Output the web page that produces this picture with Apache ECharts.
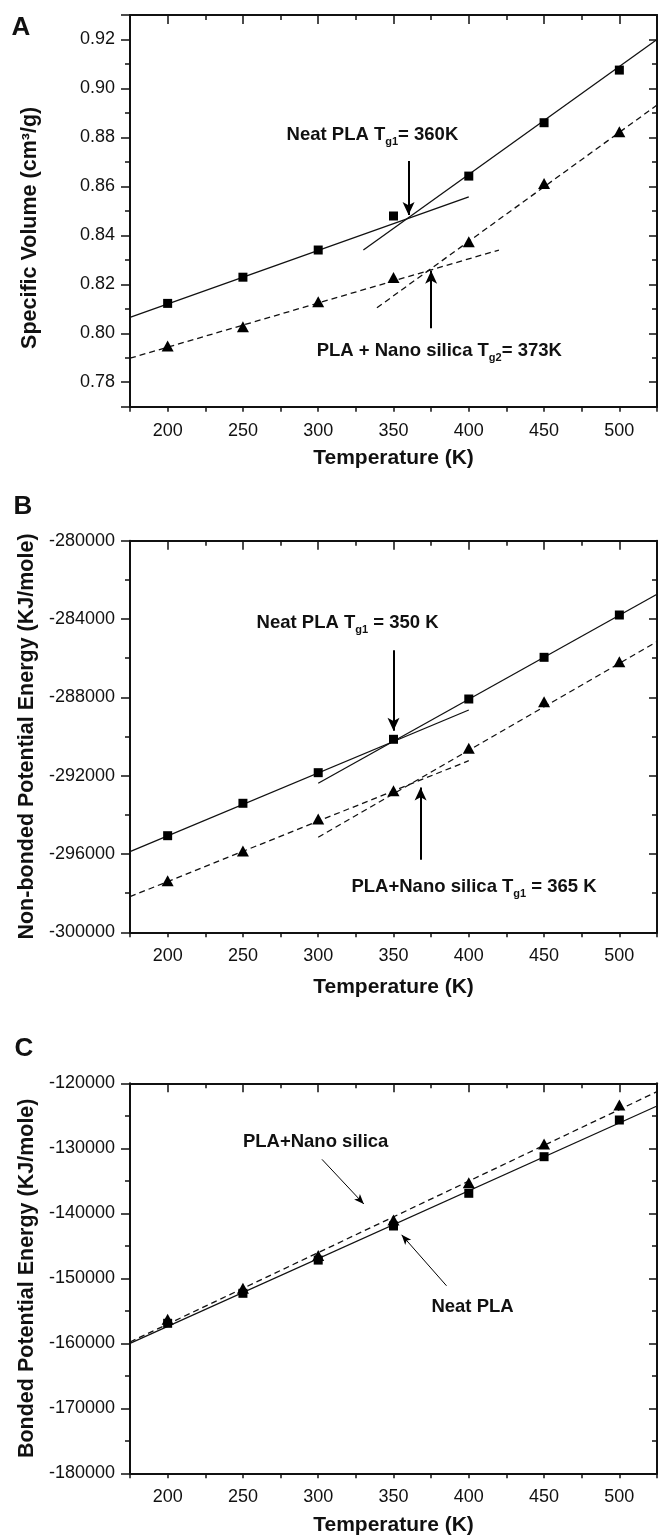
<!DOCTYPE html>
<html>
<head>
<meta charset="utf-8">
<script src="https://cdn.jsdelivr.net/npm/echarts@6/dist/echarts.min.js"></script>
<style>
  html, body { margin: 0; padding: 0; background: #fff; }
  #chart { width: 659px; height: 1536px; }
</style>
</head>
<body>
<div id="chart"></div>
<script>
// ---------------- data ----------------
const temps = [200, 250, 300, 350, 400, 450, 500];
const xTickLabels = [200, 250, 300, 350, 400, 450, 500];

// Panel A: specific volume (cm3/g)
const volNeat    = [0.8122, 0.8229, 0.8340, 0.8479, 0.8642, 0.8860, 0.9075];
const volSilica  = [0.7948, 0.8027, 0.8129, 0.8228, 0.8374, 0.8612, 0.8823];
const volNeatFitLow    = [[175, 0.8065], [400, 0.8557]];
const volNeatFitHigh   = [[330, 0.8340], [525, 0.9200]];
const volSilicaFitLow  = [[175, 0.7898], [420, 0.8340]];
const volSilicaFitHigh = [[339, 0.8104], [525, 0.8932]];
const volArrows = [[[360, 0.8704], [360, 0.8483]], [[375, 0.8020], [375, 0.8255]]];
const volNotes = [
  { at: [336, 0.8809], main: 'Neat PLA T', sub: 'g1', tail: '= 360K' },
  { at: [380.4, 0.7929], main: 'PLA + Nano silica T', sub: 'g2', tail: '= 373K' }
];

// Panel B: non-bonded potential energy (KJ/mole)
const nbNeat   = [-295066, -293411, -291848, -290143, -288085, -285956, -283795];
const nbSilica = [-297364, -295848, -294213, -292768, -290602, -288222, -286180];
const nbNeatFitLow    = [[175, -295883], [400, -288646]];
const nbNeatFitHigh   = [[300, -292390], [525, -282737]];
const nbSilicaFitLow  = [[175, -298181], [400, -291235]];
const nbSilicaFitHigh = [[300, -295148], [525, -285152]];
const nbArrows = [[[350, -285600], [350, -289700]], [[368, -296300], [368, -292600]]];
const nbNotes = [
  { at: [319.5, -284190], main: 'Neat PLA T', sub: 'g1', tail: ' = 350 K' },
  { at: [403.5, -297670], main: 'PLA+Nano silica T', sub: 'g1', tail: ' = 365 K' }
];

// Panel C: bonded potential energy (KJ/mole)
const bNeat   = [-156923, -152308, -147200, -141954, -136923, -131292, -125646];
const bSilica = [-156308, -151538, -146500, -141031, -135292, -129338, -123338];
const bNeatFit   = [[175, -160000], [525, -123492]];
const bSilicaFit = [[175, -159800], [525, -121292]];
const bArrows = [[[302.5, -131700], [330.3, -138570]], [[385.2, -151150], [355.4, -143310]]];
const bNotes = [
  { at: [298.3, -128985], main: 'PLA+Nano silica', sub: '', tail: '' },
  { at: [402.5, -154370], main: 'Neat PLA', sub: '', tail: '' }
];

// ---------------- styling / layout ----------------
const FONT = '"Liberation Sans", Arial, Helvetica, sans-serif';
const INK = '#111';
const TXT = '#111';
const grids = [
  { left: 130, top: 15,    width: 527, height: 391.7 },
  { left: 130, top: 540.7, width: 527, height: 391.6 },
  { left: 130, top: 1083.3, width: 527, height: 390 }
];
const panels = [
  { yName: 'Specific Volume (cm\u00B3/g)', yMin: 0.77, yMax: 0.93, major: { minInterval: 0.02, maxInterval: 0.02 },
    step: 0.02, minor: 0.01, dec: 2, xGap: 41, namePad: [0, 34, 0, 0] },
  { yName: 'Non-bonded Potential Energy (KJ/mole)', yMin: -300000, yMax: -280000, major: { interval: 4000 },
    step: 4000, minor: 2000, dec: 0, xGap: 44, namePad: [0, 0, 0, 0] },
  { yName: 'Bonded Potential Energy (KJ/mole)', yMin: -180000, yMax: -120000, major: { interval: 10000 },
    step: 10000, minor: 5000, dec: 0, xGap: 41, namePad: [0, 0, 0, 0] }
];

const line2 = { color: INK, width: 2 };
const tickLS = { color: INK, width: 1.5 };
const xAxes = [], yAxes = [];
panels.forEach((p, gi) => {
  // bottom x axis (labels)
  xAxes.push({
    gridIndex: gi, type: 'value', position: 'bottom', min: 175, max: 525, interval: 25,
    axisLine: { show: true, onZero: false, lineStyle: line2 },
    axisTick: { show: true, inside: false, length: 5, lineStyle: tickLS },
    axisLabel: {
      show: true, margin: 15, fontSize: 18, color: TXT, fontFamily: FONT,
      formatter: v => (xTickLabels.indexOf(Math.round(v)) >= 0 && Math.abs(v - Math.round(v)) < 1e-6) ? String(Math.round(v)) : ''
    },
    splitLine: { show: false },
    name: 'Temperature (K)', nameLocation: 'middle', nameGap: p.xGap,
    nameTextStyle: { fontSize: 21, fontWeight: 'bold', color: TXT, fontFamily: FONT }
  });
  // top x axis, major ticks
  xAxes.push({
    gridIndex: gi, type: 'value', position: 'top', min: 175, max: 525, minInterval: 50, maxInterval: 50,
    axisLine: { show: true, onZero: false, lineStyle: line2 },
    axisTick: { show: true, inside: true, length: 9, lineStyle: tickLS },
    axisLabel: { show: false }, splitLine: { show: false }
  });
  // top x axis, minor ticks
  xAxes.push({
    gridIndex: gi, type: 'value', position: 'top', min: 175, max: 525, interval: 25,
    axisLine: { show: false, onZero: false },
    axisTick: { show: true, inside: true, length: 5, lineStyle: tickLS },
    axisLabel: { show: false }, splitLine: { show: false }
  });
  // left y axis, major + labels
  const isStep = v => Math.abs(v / p.step - Math.round(v / p.step)) < 1e-6;
  yAxes.push(Object.assign({
    gridIndex: gi, type: 'value', position: 'left', min: p.yMin, max: p.yMax,
    axisLine: { show: true, onZero: false, lineStyle: line2 },
    axisTick: { show: true, inside: false, length: 9, lineStyle: tickLS },
    axisLabel: {
      show: true, margin: 15, fontSize: 18, color: TXT, fontFamily: FONT,
      showMinLabel: true, showMaxLabel: true,
      formatter: v => isStep(v) ? v.toFixed(p.dec) : ''
    },
    splitLine: { show: false },
    name: p.yName, nameLocation: 'middle', nameGap: 89,
    nameTextStyle: { fontSize: 21.5, fontWeight: 'bold', color: TXT, fontFamily: FONT, padding: p.namePad }
  }, p.major));
  // left y axis, minor ticks
  yAxes.push({
    gridIndex: gi, type: 'value', position: 'left', min: p.yMin, max: p.yMax, interval: p.minor,
    axisLine: { show: false, onZero: false },
    axisTick: { show: true, inside: false, length: 5, lineStyle: tickLS },
    axisLabel: { show: false }, splitLine: { show: false }
  });
  // right y axis, major
  yAxes.push(Object.assign({
    gridIndex: gi, type: 'value', position: 'right', min: p.yMin, max: p.yMax,
    axisLine: { show: true, onZero: false, lineStyle: line2 },
    axisTick: { show: true, inside: true, length: 8, lineStyle: tickLS },
    axisLabel: { show: false }, splitLine: { show: false }
  }, p.major));
  // right y axis, minor
  yAxes.push({
    gridIndex: gi, type: 'value', position: 'right', min: p.yMin, max: p.yMax, interval: p.minor,
    axisLine: { show: false, onZero: false },
    axisTick: { show: true, inside: true, length: 5, lineStyle: tickLS },
    axisLabel: { show: false }, splitLine: { show: false }
  });
});

const series = [];
function pts(xs, ys) { return xs.map((x, i) => [x, ys[i]]); }
function fitLine(gi, data, dashed) {
  series.push({
    type: 'line', xAxisIndex: gi * 3, yAxisIndex: gi * 4, data: data,
    showSymbol: false, symbol: 'none', silent: true, z: 2,
    lineStyle: { color: INK, width: 1.3, type: dashed ? [6, 4] : 'solid' }
  });
}
function marks(gi, data, symbol, size) {
  series.push({
    type: 'scatter', xAxisIndex: gi * 3, yAxisIndex: gi * 4, data: data,
    symbol: symbol, symbolSize: size, itemStyle: { color: '#000', opacity: 1 }, z: 4, silent: true
  });
}
const richStyles = {
  b: { fontSize: 18.5, fontWeight: 'bold', color: TXT, fontFamily: FONT, textBorderWidth: 0, opacity: 1 },
  s: { fontSize: 11, fontWeight: 'bold', color: TXT, fontFamily: FONT, padding: [14, 0, 0, 0], textBorderWidth: 0, opacity: 1 }
};
function annotate(gi, arrows, notes, arrowWidth, headSize) {
  series.push({
    type: 'line', xAxisIndex: gi * 3, yAxisIndex: gi * 4, silent: true, z: 5,
    showSymbol: false, symbol: 'none', lineStyle: { width: 0, opacity: 0 },
    data: [],
    markPoint: {
      silent: true, symbol: 'circle', symbolSize: 0, animation: false,
      itemStyle: { color: '#000' },
      label: {
        show: true, position: 'inside', color: TXT, textBorderWidth: 0, opacity: 1,
        fontFamily: FONT, rich: richStyles
      },
      data: notes.map(n => ({
        coord: n.at,
        label: {
          formatter: '{b|' + n.main + '}' + (n.sub ? '{s|' + n.sub + '}' : '') + (n.tail ? '{b|' + n.tail + '}' : '')
        }
      }))
    },
    markLine: {
      silent: true, symbol: ['none', 'arrow'], symbolSize: headSize, animation: false,
      label: { show: false },
      lineStyle: { color: '#000', width: arrowWidth, type: 'solid', opacity: 1 },
      emphasis: { disabled: true },
      data: arrows.map(a => [{ coord: a[0] }, { coord: a[1] }])
    }
  });
}

// Panel A
fitLine(0, volNeatFitLow, false);
fitLine(0, volNeatFitHigh, false);
fitLine(0, volSilicaFitLow, true);
fitLine(0, volSilicaFitHigh, true);
marks(0, pts(temps, volNeat), 'rect', 9);
marks(0, pts(temps, volSilica), 'triangle', [12, 11]);
annotate(0, volArrows, volNotes, 2, [9, 13]);
// Panel B
fitLine(1, nbNeatFitLow, false);
fitLine(1, nbNeatFitHigh, false);
fitLine(1, nbSilicaFitLow, true);
fitLine(1, nbSilicaFitHigh, true);
marks(1, pts(temps, nbNeat), 'rect', 9);
marks(1, pts(temps, nbSilica), 'triangle', [12, 11]);
annotate(1, nbArrows, nbNotes, 2, [9, 13]);
// Panel C
fitLine(2, bNeatFit, false);
fitLine(2, bSilicaFit, true);
marks(2, pts(temps, bNeat), 'rect', 9);
marks(2, pts(temps, bSilica), 'triangle', [12, 11]);
annotate(2, bArrows, bNotes, 1, [6, 10]);

const panelLetters = [
  { text: 'A', x: 21, y: 27.5 },
  { text: 'B', x: 23, y: 506.5 },
  { text: 'C', x: 24, y: 1049 }
];

const chart = echarts.init(document.getElementById('chart'), null, { renderer: 'canvas', width: 659, height: 1536 });
chart.setOption({
  backgroundColor: '#fff',
  animation: false,
  grid: grids.map(g => Object.assign({ containLabel: false, outerBoundsMode: 'none' }, g)),
  xAxis: xAxes,
  yAxis: yAxes,
  series: series,
  graphic: panelLetters.map(l => ({
    type: 'text', x: l.x, y: l.y, silent: true,
    style: { text: l.text, fontSize: 26, fontWeight: 'bold', fontFamily: FONT, fill: '#111', textAlign: 'center', textVerticalAlign: 'middle' }
  }))
});
</script>
</body>
</html>
